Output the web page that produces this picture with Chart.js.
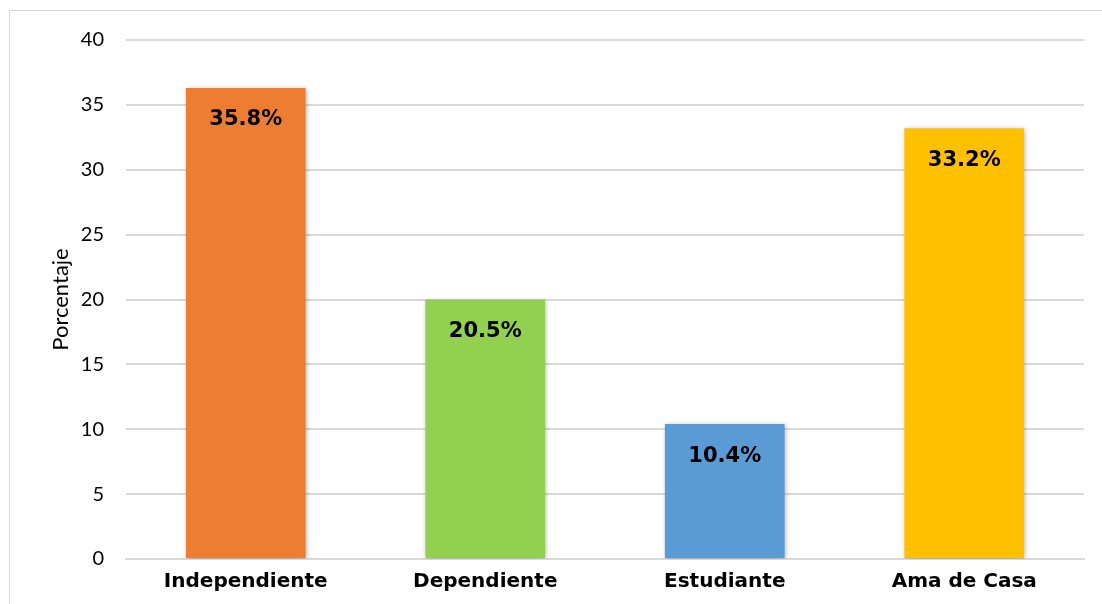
<!DOCTYPE html>
<html><head><meta charset="utf-8">
<script src="https://cdn.jsdelivr.net/npm/chart.js@4"></script>
<style>html,body{margin:0;padding:0;background:#fff}#wrap{position:relative;width:1102px;height:604px}</style>
</head><body><div id="wrap"><canvas id="c" width="1102" height="604"></canvas></div>
<script>
const categories = ["Independiente", "Dependiente", "Estudiante", "Ama de Casa"];
const values = [36.3, 20.0, 10.4, 33.2];
const valueLabels = ["35.8%", "20.5%", "10.4%", "33.2%"];
const colors = ["#ED7D31", "#92D050", "#5B9BD5", "#FFC000"];
const yTitle = "Porcentaje";

const framePlugin = {
  id: 'frame',
  beforeDraw(chart) {
    const ctx = chart.ctx;
    ctx.save();
    ctx.strokeStyle = '#d9d9d9';
    ctx.lineWidth = 1;
    ctx.strokeRect(9.5, 10.5, 1100, 600);
    ctx.restore();
  }
};
const shadowPlugin = {
  id: 'shadow',
  beforeDatasetDraw(chart) {
    const ctx = chart.ctx;
    ctx.save();
    ctx.shadowColor = 'rgba(0,0,0,0.3)';
    ctx.shadowBlur = 5;
    ctx.shadowOffsetX = 1;
    ctx.shadowOffsetY = 1;
  },
  afterDatasetDraw(chart) { chart.ctx.restore(); }
};
const labelPlugin = {
  id: 'vlabels',
  afterDatasetsDraw(chart) {
    const ctx = chart.ctx;
    const meta = chart.getDatasetMeta(0);
    ctx.save();
    ctx.font = 'bold 21px "DejaVu Sans"';
    ctx.fillStyle = '#000';
    ctx.textAlign = 'center';
    ctx.textBaseline = 'middle';
    meta.data.forEach((bar, i) => {
      ctx.fillText(valueLabels[i], bar.x, bar.y + 32);
    });
    ctx.restore();
  }
};

new Chart(document.getElementById('c'), {
  type: 'bar',
  data: {
    labels: categories,
    datasets: [{ data: values, backgroundColor: colors, borderWidth: 0, barPercentage: 0.5, categoryPercentage: 1.0 }]
  },
  options: {
    responsive: false,
    animation: false,
    events: [],
    layout: { padding: { top: 40, right: 18, bottom: 0, left: 48 } },
    plugins: { legend: { display: false }, tooltip: { enabled: false } },
    scales: {
      x: {
        grid: { display: false },
        border: { color: '#d9d9d9', width: 2 },
        ticks: { color: '#000', font: { family: 'DejaVu Sans', size: 20, weight: 'bold' }, padding: 3 },
        afterFit(s) { s.height = 45; }
      },
      y: {
        min: 0, max: 40,
        ticks: { stepSize: 5, color: '#000', font: { family: 'Lato', size: 20 }, padding: 22 },
        grid: { color: '#d9d9d9', lineWidth: 2, drawTicks: false },
        border: { display: false },
        title: { display: true, text: yTitle, color: '#000', font: { family: 'Lato', size: 22 }, padding: 0 },
        afterFit(s) { s.width = 78; }
      }
    }
  },
  plugins: [framePlugin, shadowPlugin, labelPlugin]
});
</script></body></html>
